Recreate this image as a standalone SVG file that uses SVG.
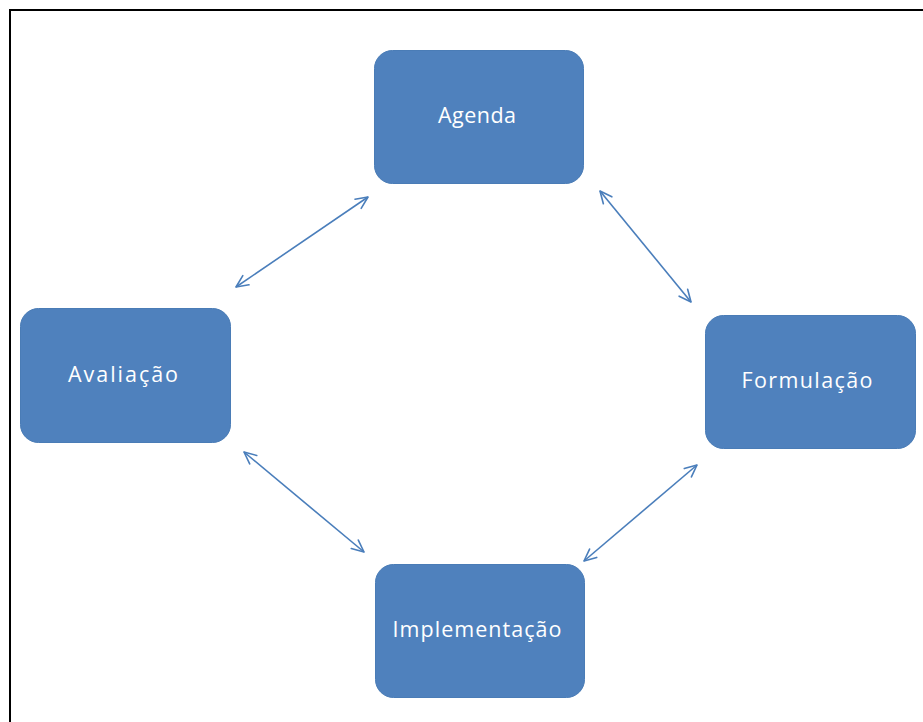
<svg xmlns="http://www.w3.org/2000/svg" width="923" height="722" viewBox="0 0 923 722">
  <style>
    .box { fill: #4f81bd; stroke: #4a7cb6; stroke-width: 1; }
    .lbl { fill: #ffffff; font-family: "Open Sans", "Liberation Sans", sans-serif; font-size: 21.5px; text-anchor: middle; }
    .conn { stroke: #4a7ebb; stroke-width: 1.6; fill: none; marker-start: url(#arr); marker-end: url(#arr); }
  </style>
  <defs>
    <marker id="arr" viewBox="-14 -8 16 16" refX="0" refY="0" markerWidth="16" markerHeight="16" markerUnits="userSpaceOnUse" orient="auto-start-reverse">
      <path d="M -12 -5.5 L 0 0 L -12 5.5" fill="none" stroke="#4a7ebb" stroke-width="1.6" stroke-linecap="round" stroke-linejoin="round"/>
    </marker>
  </defs>
  <rect x="0" y="0" width="923" height="722" fill="#ffffff"/>
  <path d="M 10 722 L 10 10 L 923 10" fill="none" stroke="#000000" stroke-width="2"/>

  <g id="connectors">
    <line class="conn" x1="236" y1="287" x2="368" y2="197"/>
    <line class="conn" x1="600" y1="191" x2="691" y2="302"/>
    <line class="conn" x1="244" y1="452" x2="364" y2="552"/>
    <line class="conn" x1="584" y1="561" x2="697" y2="465"/>
  </g>

  <g id="node-agenda">
    <rect class="box" x="374.5" y="50.5" width="209" height="133" rx="18" ry="18"/>
    <text class="lbl" x="477" y="123" textLength="78" lengthAdjust="spacing">Agenda</text>
  </g>
  <g id="node-formulacao">
    <rect class="box" x="705.5" y="315.5" width="210" height="133" rx="18" ry="18"/>
    <text class="lbl" x="807" y="388" textLength="131" lengthAdjust="spacing">Formulação</text>
  </g>
  <g id="node-implementacao">
    <rect class="box" x="375.5" y="564.5" width="209" height="133" rx="18" ry="18"/>
    <text class="lbl" x="477" y="637" textLength="169" lengthAdjust="spacing">Implementação</text>
  </g>
  <g id="node-avaliacao">
    <rect class="box" x="20.5" y="308.5" width="210" height="134" rx="18" ry="18"/>
    <text class="lbl" x="123" y="382" textLength="110" lengthAdjust="spacing">Avaliação</text>
  </g>
</svg>
